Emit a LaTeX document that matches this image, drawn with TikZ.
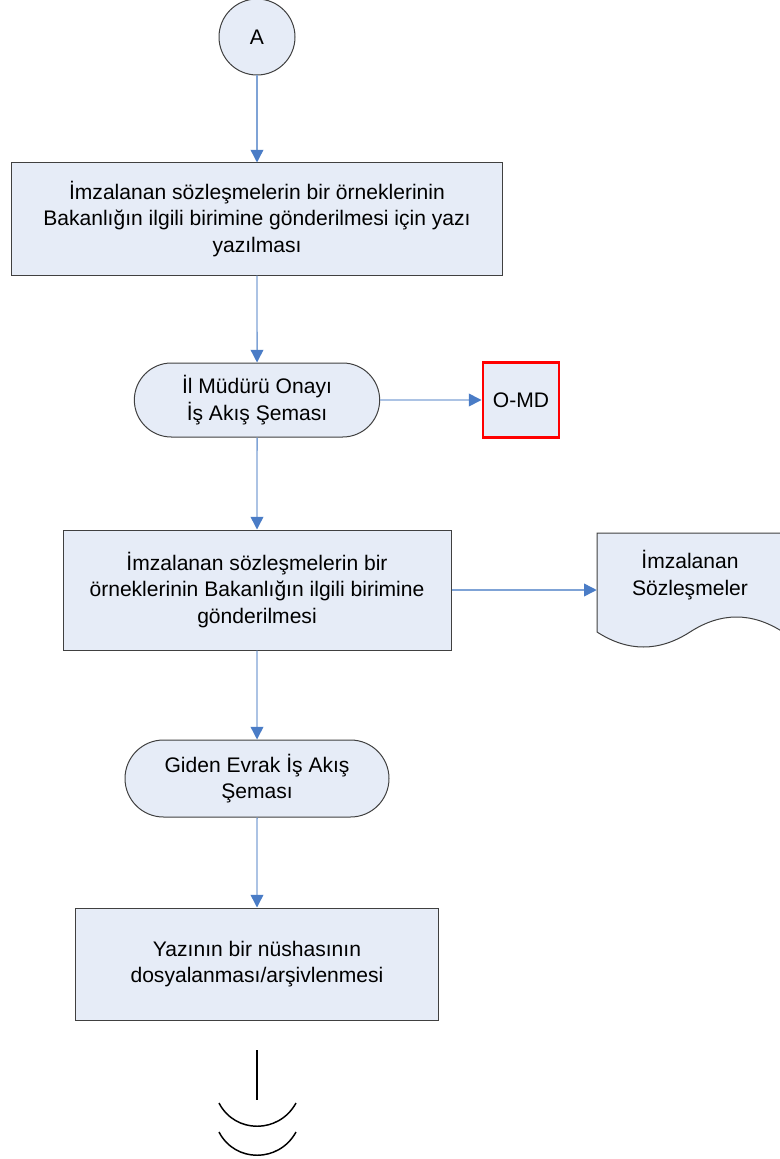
\documentclass[tikz,border=0pt]{standalone}
\usepackage{fontspec}
\setmainfont{Liberation Sans}
\usetikzlibrary{arrows.meta,shapes.misc,positioning}
\definecolor{box_fill}{HTML}{E6ECF7}
\definecolor{line_blue}{HTML}{7FA3D6}
\definecolor{head_blue}{HTML}{4A7CC6}
\definecolor{omd_red}{HTML}{FF0000}
\tikzset{
  flowbox/.style={draw=black!75, fill=box_fill, line width=0.75pt, align=center, inner sep=0pt},
  termbox/.style={flowbox, rounded rectangle},
  flowarrow/.style={draw=line_blue, line width=1.1pt, -{Triangle[length=9.5pt,width=9.5pt,color=head_blue]}}
}
\begin{document}
\begin{tikzpicture}[x=0.75pt, y=-0.75pt, font=\fontsize{15.8}{19.8}\selectfont]
    \useasboundingbox (0,0) rectangle (780,1159);
    \clip (0,0) rectangle (780,1159);
    \node[flowbox, circle, minimum size=57pt] (A) at (257,37) {A};
    \node[flowbox, minimum width=368pt, minimum height=84pt] (yazi) at (257,219) {İmzalanan sözleşmelerin bir örneklerinin\\Bakanlığın ilgili birimine gönderilmesi için yazı\\yazılması};
    \node[termbox, minimum width=184pt, minimum height=55.5pt] (onay) at (257,400) {İl Müdürü Onayı\\İş Akış Şeması};
    \node[flowbox, draw=omd_red, line width=2.2pt, minimum width=57pt, minimum height=56pt] (omd) at (521,400) {O-MD};
    \node[flowbox, minimum width=291pt, minimum height=90pt] (gonder) at (257,590) {İmzalanan sözleşmelerin bir\\örneklerinin Bakanlığın ilgili birimine\\gönderilmesi};
    % belge sekli
    \draw[draw=black!75, fill=box_fill, line width=0.75pt] (597,533) -- (783,533) -- (783,632)
      .. controls (752,612) and (721,612) .. (690,632)
      .. controls (659,652) and (628,652) .. (597,632) -- cycle;
    \node[minimum width=139.5pt, minimum height=70pt, align=center, inner sep=0pt] (belge) at (690,575) {İmzalanan\\Sözleşmeler};
    \node[termbox, minimum width=198pt, minimum height=57.75pt] (giden) at (257,778.5) {Giden Evrak İş Akış\\Şeması};
    \node[flowbox, minimum width=272pt, minimum height=84pt] (arsiv) at (257,964) {Yazının bir nüshasının\\dosyalanması/arşivlenmesi};
    \draw[flowarrow] (A) -- (yazi);
    \draw[flowarrow] (yazi) -- (onay);
    \draw[flowarrow] (onay) -- (omd);
    \draw[flowarrow] (onay) -- (gonder);
    \draw[flowarrow] (gonder.east) -- (gonder.east -| belge.west);
    \draw[flowarrow] (gonder) -- (giden);
    \draw[flowarrow] (giden) -- (arsiv);
    % sayfa sonu
    \coordinate (B) at (257,1050);
    \coordinate (C) at (257,1100);
    \draw[line width=1.1pt] (B) -- (C);
    \draw[line width=1.1pt] (219,1103) .. controls (235,1134) and (279,1134) .. (296,1103);
    \draw[line width=1.1pt] (219,1132) .. controls (235,1163) and (279,1163) .. (296,1132);
\end{tikzpicture}
\end{document}
